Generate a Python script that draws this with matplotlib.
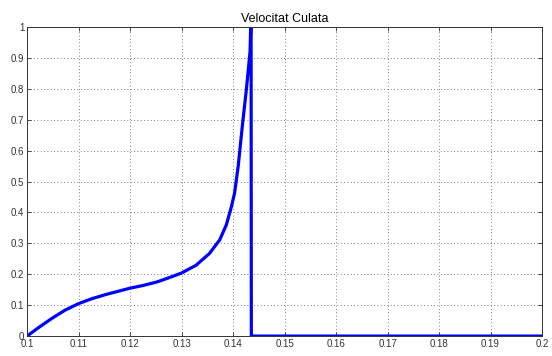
import matplotlib
matplotlib.use("Agg")
import matplotlib.pyplot as plt

plt.rcParams.update({
    "font.family": ["Liberation Sans", "DejaVu Sans"],
    "font.size": 7,
})

# curve (velocity vs time)
t = [0.1000, 0.1022, 0.1048, 0.1074, 0.1100, 0.1126, 0.1152, 0.1177, 0.1200,
     0.1226, 0.1252, 0.1276, 0.1300, 0.1328, 0.1354, 0.1374, 0.1387, 0.1397,
     0.1403, 0.1410, 0.1418, 0.1426, 0.1433, 0.1435, 0.14355, 0.2]
v = [0.0, 0.027, 0.057, 0.084, 0.105, 0.121, 0.134, 0.145, 0.155,
     0.164, 0.175, 0.189, 0.204, 0.229, 0.267, 0.311, 0.360, 0.420,
     0.463, 0.550, 0.680, 0.800, 0.920, 1.05, 0.0, 0.0]

xticks = [0.1, 0.11, 0.12, 0.13, 0.14, 0.15, 0.16, 0.17, 0.18, 0.19, 0.2]
xlabels = ["0.1", "0.11", "0.12", "0.13", "0.14", "0.15", "0.16", "0.17", "0.18", "0.19", "0.2"]
yticks = [0, 0.1, 0.2, 0.3, 0.4, 0.5, 0.6, 0.7, 0.8, 0.9, 1]
ylabels = ["0", "0.1", "0.2", "0.3", "0.4", "0.5", "0.6", "0.7", "0.8", "0.9", "1"]

fig = plt.figure(figsize=(5.52, 3.56), dpi=100)
ax = fig.add_axes([0.049, 0.056, 0.933, 0.868])

ax.plot(t, v, color="#0000ff", lw=2.3, solid_joinstyle="round", clip_on=True)

ax.set_xlim(0.1, 0.2)
ax.set_ylim(0, 1)
ax.set_xticks(xticks)
ax.set_xticklabels(xlabels)
ax.set_yticks(yticks)
ax.set_yticklabels(ylabels)
ax.tick_params(direction="in", length=3, width=0.6, colors="#333333", pad=2,
               top=True, right=True)
ax.grid(True, linestyle=(0, (1, 3)), color="#555555", lw=0.6)
for s in ax.spines.values():
    s.set_color("#333333")
    s.set_linewidth(0.7)

ax.set_title("Velocitat Culata", fontsize=9, pad=4)

fig.savefig("out.png", dpi=100)
